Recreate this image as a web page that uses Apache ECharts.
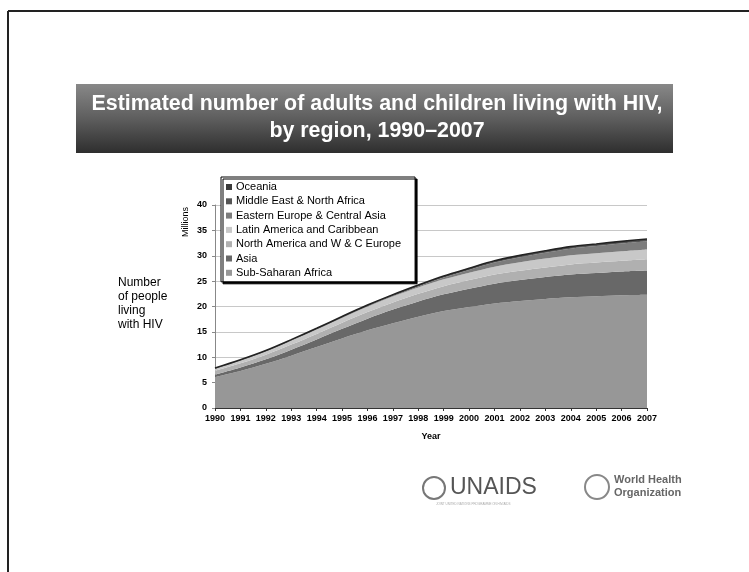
<!DOCTYPE html>
<html><head><meta charset="utf-8">
<script src="https://cdn.jsdelivr.net/npm/echarts@6/dist/echarts.min.js"></script>
<style>html,body{margin:0;padding:0;background:#fff}#c{width:749px;height:572px}</style>
</head><body><div id="c"></div>
<script>
const years = ['1990','1991','1992','1993','1994','1995','1996','1997','1998','1999','2000','2001','2002','2003','2004','2005','2006','2007'];
const yTicks = [0,5,10,15,20,25,30,35,40];
const subSaharanAfrica = [6.1,7.3,8.7,10.3,12.0,13.7,15.3,16.7,18.0,19.1,19.9,20.6,21.1,21.5,21.8,22.0,22.2,22.3];
const asia = [0.5,0.7,0.9,1.2,1.5,1.9,2.3,2.7,3.0,3.3,3.6,3.9,4.1,4.3,4.5,4.6,4.7,4.8];
const northAmericaWCEurope = [0.7,0.8,0.9,1.0,1.1,1.2,1.3,1.4,1.5,1.6,1.7,1.8,1.85,1.9,2.0,2.05,2.1,2.2];
const latinAmericaCaribbean = [0.45,0.55,0.65,0.75,0.85,0.95,1.05,1.15,1.25,1.35,1.45,1.55,1.65,1.75,1.8,1.85,1.9,1.95];
const easternEuropeCentralAsia = [0.02,0.03,0.03,0.04,0.05,0.06,0.08,0.12,0.2,0.35,0.55,0.8,1.0,1.15,1.3,1.4,1.5,1.6];
const middleEastNorthAfrica = [0.1,0.12,0.14,0.16,0.18,0.2,0.22,0.24,0.26,0.28,0.3,0.31,0.32,0.33,0.34,0.35,0.37,0.38];
const oceania = [0.01,0.01,0.01,0.02,0.02,0.02,0.03,0.03,0.03,0.04,0.04,0.05,0.05,0.06,0.06,0.07,0.07,0.07];

const names = ['Sub-Saharan Africa','Asia','North America and W & C Europe','Latin America and Caribbean','Eastern Europe & Central Asia','Middle East & North Africa','Oceania'];
const values = [subSaharanAfrica, asia, northAmericaWCEurope, latinAmericaCaribbean, easternEuropeCentralAsia, middleEastNorthAfrica, oceania];
const colors = ['#979797','#686868','#b0b0b0','#c8c8c8','#7c7c7c','#555555','#3a3a3a'];

const F = 'Liberation Sans, Arial, sans-serif';
const chart = echarts.init(document.getElementById('c'));
const series = names.map((n,i)=>({
  name:n, type:'line', stack:'t', data:values[i], smooth:0.3, symbol:'none',
  areaStyle:{color:colors[i], opacity:1},
  lineStyle: i===names.length-1 ? {color:'#222', width:1.6} : {width:0},
  itemStyle:{color:colors[i]}, z: 2
}));
chart.setOption({
  animation:false,
  textStyle:{fontFamily:F},
  grid:{left:215, right:102, top:205, bottom:164, containLabel:false},
  legend:{
    orient:'vertical', left:221, top:177,
    data:names.slice().reverse(),
    itemWidth:6, itemHeight:6, itemGap:0.3, icon:'rect',
    padding:[3,14,2,5],
    backgroundColor:'#fff', borderColor:'#000', borderWidth:1,
    shadowColor:'#000', shadowOffsetX:2, shadowOffsetY:2, shadowBlur:0,
    textStyle:{fontFamily:F, fontSize:11, color:'#000', lineHeight:14, padding:[0,0,0,-1]},
    z:10
  },
  xAxis:{
    type:'category', data:years, boundaryGap:false,
    axisLine:{lineStyle:{color:'#333', width:1}},
    axisTick:{show:true, lineStyle:{color:'#333'}, length:3},
    axisLabel:{fontFamily:F, fontSize:9, fontWeight:'bold', color:'#000', interval:0, margin:6},
    name:'Year', nameLocation:'middle', nameGap:24,
    nameTextStyle:{fontFamily:F, fontSize:9, fontWeight:'bold', color:'#000'}
  },
  yAxis:{
    type:'value', min:yTicks[0], max:yTicks[yTicks.length-1], interval:5,
    axisLine:{show:true, lineStyle:{color:'#888'}},
    axisTick:{show:true, lineStyle:{color:'#888'}, length:3},
    axisLabel:{fontFamily:F, fontSize:9, fontWeight:'bold', color:'#000', margin:8},
    splitLine:{lineStyle:{color:'#c8c8c8', width:1}}
  },
  series: series,
  graphic:[
    {type:'line', shape:{x1:8,y1:11,x2:749,y2:11}, style:{stroke:'#222', lineWidth:2}},
    {type:'line', shape:{x1:8,y1:11,x2:8,y2:572}, style:{stroke:'#222', lineWidth:2}},
    {type:'rect', shape:{x:76,y:84,width:597,height:69},
      style:{fill:new echarts.graphic.LinearGradient(0,0,0,1,[{offset:0,color:'#888888'},{offset:0.5,color:'#5e5e5e'},{offset:1,color:'#2e2e2e'}])}},
    {type:'text', x:377, y:104, style:{text:'Estimated number of adults and children living with HIV,', fill:'#fff', font:'bold 21.4px '+F, textAlign:'center', textVerticalAlign:'middle'}},
    {type:'text', x:377, y:131, style:{text:'by region, 1990–2007', fill:'#fff', font:'bold 21.4px '+F, textAlign:'center', textVerticalAlign:'middle'}},
    {type:'text', x:186, y:222, rotation:Math.PI/2, style:{text:'Millions', fill:'#000', font:'9px '+F, textAlign:'center', textVerticalAlign:'middle'}},
    {type:'text', x:118, y:276, style:{text:'Number\nof people\nliving\nwith HIV', fill:'#000', font:'12px '+F, lineHeight:14}},
    {type:'circle', shape:{cx:434,cy:488,r:11}, style:{fill:'#fff', stroke:'#777', lineWidth:2}},
    {type:'text', x:450, y:488, style:{text:'UNAIDS', fill:'#555', font:'23px '+F, textVerticalAlign:'middle'}},
    {type:'text', x:436, y:503, style:{text:'JOINT UNITED NATIONS PROGRAMME ON HIV/AIDS', fill:'#aaa', font:'3px '+F}},
    {type:'circle', shape:{cx:597,cy:487,r:12}, style:{fill:'#fff', stroke:'#888', lineWidth:2}},
    {type:'text', x:614, y:480, style:{text:'World Health', fill:'#666', font:'bold 11px '+F, textVerticalAlign:'middle'}},
    {type:'text', x:614, y:493, style:{text:'Organization', fill:'#666', font:'bold 11px '+F, textVerticalAlign:'middle'}}
  ]
});
</script></body></html>
